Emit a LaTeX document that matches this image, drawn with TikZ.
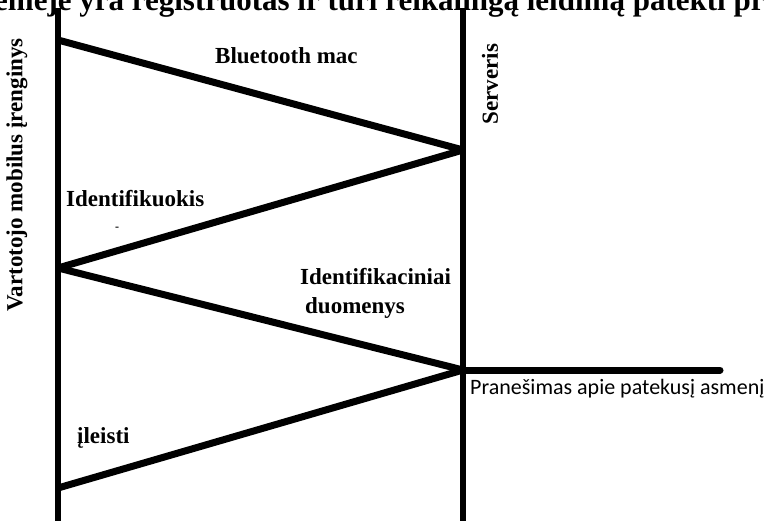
\documentclass[tikz,border=0pt]{standalone}
\usepackage{fontspec}
\setmainfont{Liberation Serif}
\newfontfamily\calib{Carlito}
\begin{document}
\begin{tikzpicture}[x=1pt,y=-1pt,
  lifeline/.style={line width=6pt},
  msg/.style={line width=7pt},
  lbl/.style={font=\bfseries\fontsize{23}{26}\selectfont, inner sep=0pt},
  note/.style={font=\calib\fontsize{22}{26}\selectfont, inner sep=0pt}]
\useasboundingbox (0,0) rectangle (779,521);
% heading, partly outside the page
\node[font=\bfseries\fontsize{31}{34}\selectfont, inner sep=0pt, anchor=base west] (head) at (-6,11) {emeje yra registruotas ir turi reikalingą leidimą patekti pr};
% lifelines
\coordinate (uTop) at (58,8);
\coordinate (uBot) at (58,530);
\coordinate (sTop) at (463,8);
\coordinate (sBot) at (463,530);
\draw[lifeline] (uTop) -- (uBot);
\draw[lifeline] (sTop) -- (sBot);
% message points
\coordinate (u1) at (58,40);
\coordinate (s1) at (463,150);
\coordinate (u2) at (58,268);
\coordinate (s2) at (463,370);
\coordinate (u3) at (58,488);
\coordinate (out) at (720,370);
\draw[msg] (u1) -- (s1);
\draw[msg] (s1) -- (u2);
\draw[msg] (u2) -- (s2);
\draw[msg] (s2) -- (u3);
\draw[msg, line cap=round] (s2) -- (out);
% labels
\node[lbl, rotate=90] (user) at (17,175) {Vartotojo mobilus įrenginys};
\node[lbl, rotate=90] (srv) at (490,84) {Serveris};
\node[lbl, anchor=base west] (m1) at (215,64) {Bluetooth mac};
\node[lbl, anchor=base west] (m2) at (66,207) {Identifikuokis};
\node[font=\bfseries\fontsize{12}{12}\selectfont, inner sep=0pt] (dot) at (117,229) {-};
\node[lbl, anchor=base west, align=left] (m3) at (300,285) {Identifikaciniai};
\node[lbl, anchor=base west] (m3b) at (305,314) {duomenys};
\node[lbl, anchor=base west] (m4) at (77,443) {įleisti};
\node[note, anchor=base west] (msgOut) at (470,394) {Pranešimas apie patekusį asmenį};
\end{tikzpicture}
\end{document}
